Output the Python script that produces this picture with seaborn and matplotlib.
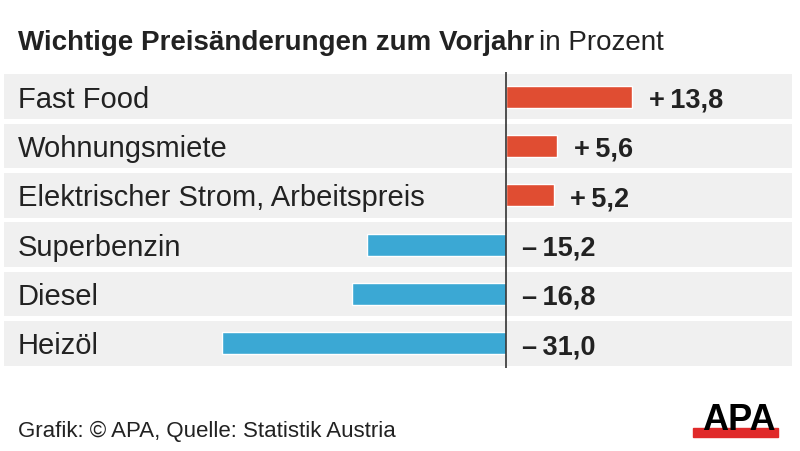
import matplotlib
matplotlib.use('Agg')
import matplotlib.pyplot as plt
import matplotlib.transforms as mtransforms
import seaborn as sns
import pandas as pd

categories = ['Fast Food', 'Wohnungsmiete', 'Elektrischer Strom, Arbeitspreis',
              'Superbenzin', 'Diesel', 'Heizöl']
values = [13.8, 5.6, 5.2, -15.2, -16.8, -31.0]
value_labels = ['+\u200913,8', '+\u20095,6', '+\u20095,2',
                '\u2013\u200915,2', '\u2013\u200916,8', '\u2013\u200931,0']

RED = '#e04d32'
BLUE = '#3ba8d4'
BAND = '#f0f0f0'
TXT = '#222222'

sns.set_style('white')
plt.rcParams['font.family'] = ['Liberation Sans', 'DejaVu Sans']

df = pd.DataFrame({'cat': categories, 'val': values})
colors = [RED if v > 0 else BLUE for v in values]

fig = plt.figure(figsize=(8, 4.52), dpi=100)
ax = fig.add_axes([4 / 800, 1 - 369 / 452, 788 / 800, 296 / 452])

# grey row bands
for i in range(len(categories)):
    ax.axhspan(i - 0.455, i + 0.455, color=BAND, zorder=0, lw=0)

sns.barplot(data=df, x='val', y='cat', hue='cat', palette=colors, orient='h',
            width=0.44, legend=False, ax=ax, zorder=2, saturation=1)

ax.axvline(0, color='#333333', lw=1.2, zorder=3)
ax.set_xlim(-54.86, 31.26)
ax.set_ylim(5.5, -0.5)
ax.set_axis_off()

# category labels on the left (baseline a bit below row centre)
trans = mtransforms.blended_transform_factory(fig.transFigure, ax.transData)
for i, c in enumerate(categories):
    ax.text(18 / 800, i + 0.2, c, transform=trans, va='baseline', ha='left',
            fontsize=21, color=TXT)

# value labels
for i, (v, s) in enumerate(zip(values, value_labels)):
    x = v + 1.8 if v > 0 else 1.7
    ax.text(x, i + 0.2, s, va='baseline', ha='left', fontsize=19.5,
            fontweight='bold', color=TXT)

# title
t1 = fig.text(18 / 800, 1 - 50 / 452, 'Wichtige Preisänderungen zum Vorjahr',
              fontsize=20, fontweight='bold', color=TXT, va='baseline')
fig.canvas.draw()
bb = t1.get_window_extent()
fig.text(bb.x1 / 800 + 0.006, 1 - 50 / 452, 'in Prozent', fontsize=20,
         color=TXT, va='baseline')

# footer
fig.text(18 / 800, 1 - 437 / 452, 'Grafik: © APA, Quelle: Statistik Austria',
         fontsize=16, color=TXT, va='baseline')

# APA logo
fig.patches.append(plt.Rectangle((693 / 800, 1 - 438 / 452), 85 / 800, 9 / 452,
                                 transform=fig.transFigure, color='#e02a2a',
                                 zorder=1))
fig.text(739 / 800, 1 - 430 / 452, 'APA', fontsize=26, fontweight='bold',
         color='black', ha='center', va='baseline', zorder=2)

fig.savefig('out.png', dpi=100)
